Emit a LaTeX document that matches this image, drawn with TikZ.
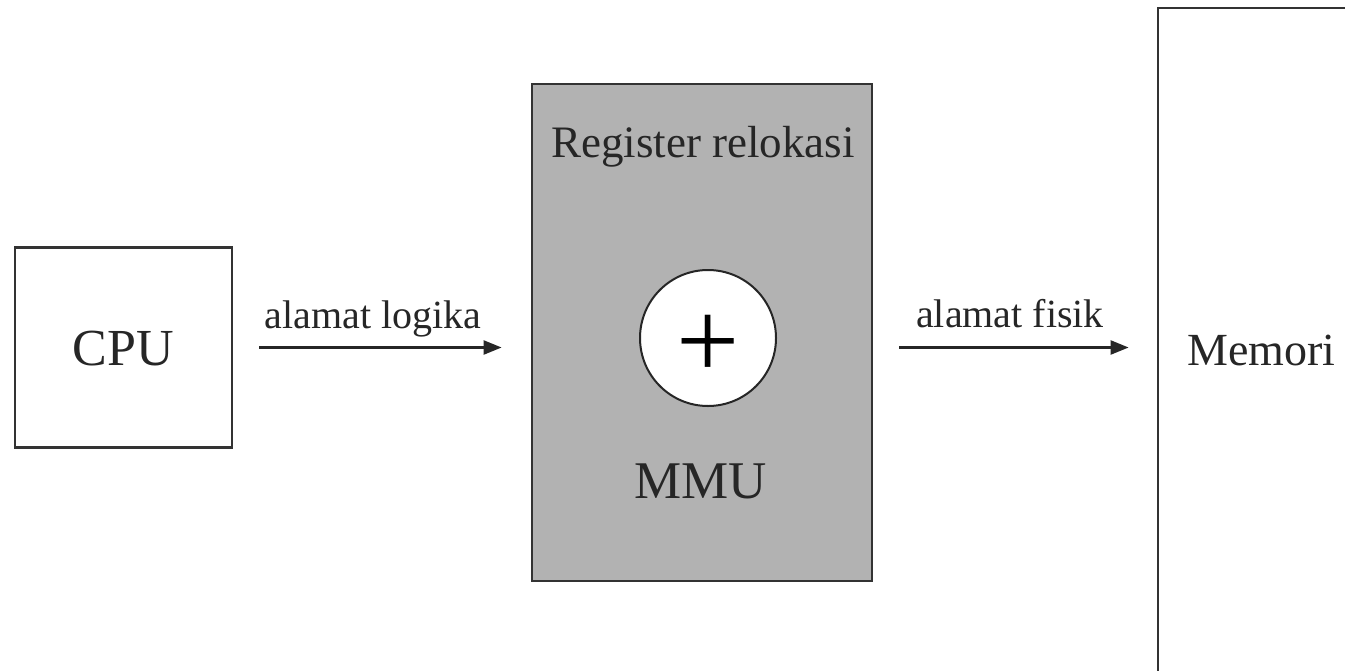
\documentclass[tikz,border=0pt]{standalone}
\usepackage{fontspec}
\setmainfont{Liberation Serif}
\usetikzlibrary{arrows.meta}
\tikzset{
  box/.style={draw=black!80, line width=2.8pt, rectangle, inner sep=0pt},
  lbl/.style={anchor=base, inner sep=0pt, text=black!85},
  arr/.style={draw=black!85, line width=2.4pt, -{Triangle[length=18pt,width=14pt]}},
}
\begin{document}
\begin{tikzpicture}[x=1pt,y=-1pt]
\useasboundingbox[fill=white] (0,0) rectangle (1345,670);
\clip (0,0) rectangle (1345,670);
% boxes
\node[box, minimum width=217pt, minimum height=200pt] (cpu) at (123.5,347.5) {};
\node[box, fill=black!30, minimum width=340pt, minimum height=497pt] (mmu) at (702,332.5) {};
\node[box, minimum width=262pt, minimum height=700pt] (mem) at (1289,358) {};
\node[draw=black!85, line width=2pt, fill=white, circle, minimum size=136pt, inner sep=0pt] (add) at (708,338) {};
% texts
\node[lbl, font=\fontsize{52}{60}\selectfont] (cputxt) at (123,365) {CPU};
\node[lbl, font=\fontsize{45}{54}\selectfont] (regtxt) at (703,157) {Register relokasi};
\node[lbl, font=\fontsize{53}{62}\selectfont] (mmutxt) at (701,498) {MMU};
\node[lbl, anchor=base west, font=\fontsize{46}{55}\selectfont] (memtxt) at (1187,365) {Memori};
\node[inner sep=0pt, font=\fontsize{112}{120}\selectfont] (plus) at ([yshift=-9pt]add.center) {+};
\node[lbl, font=\fontsize{40}{48}\selectfont] (lbl1) at (373,328) {alamat logika};
\node[lbl, font=\fontsize{40}{48}\selectfont] (lbl2) at (1010,327) {alamat fisik};
% arrows
\draw[arr, shorten <=26pt, shorten >=29pt] (cpu.east) -- (cpu.east -| mmu.west);
\draw[arr, shorten <=26pt, shorten >=28pt] (mmu.east |- cpu.east) -- (cpu.east -| mem.west);
\end{tikzpicture}
\end{document}
